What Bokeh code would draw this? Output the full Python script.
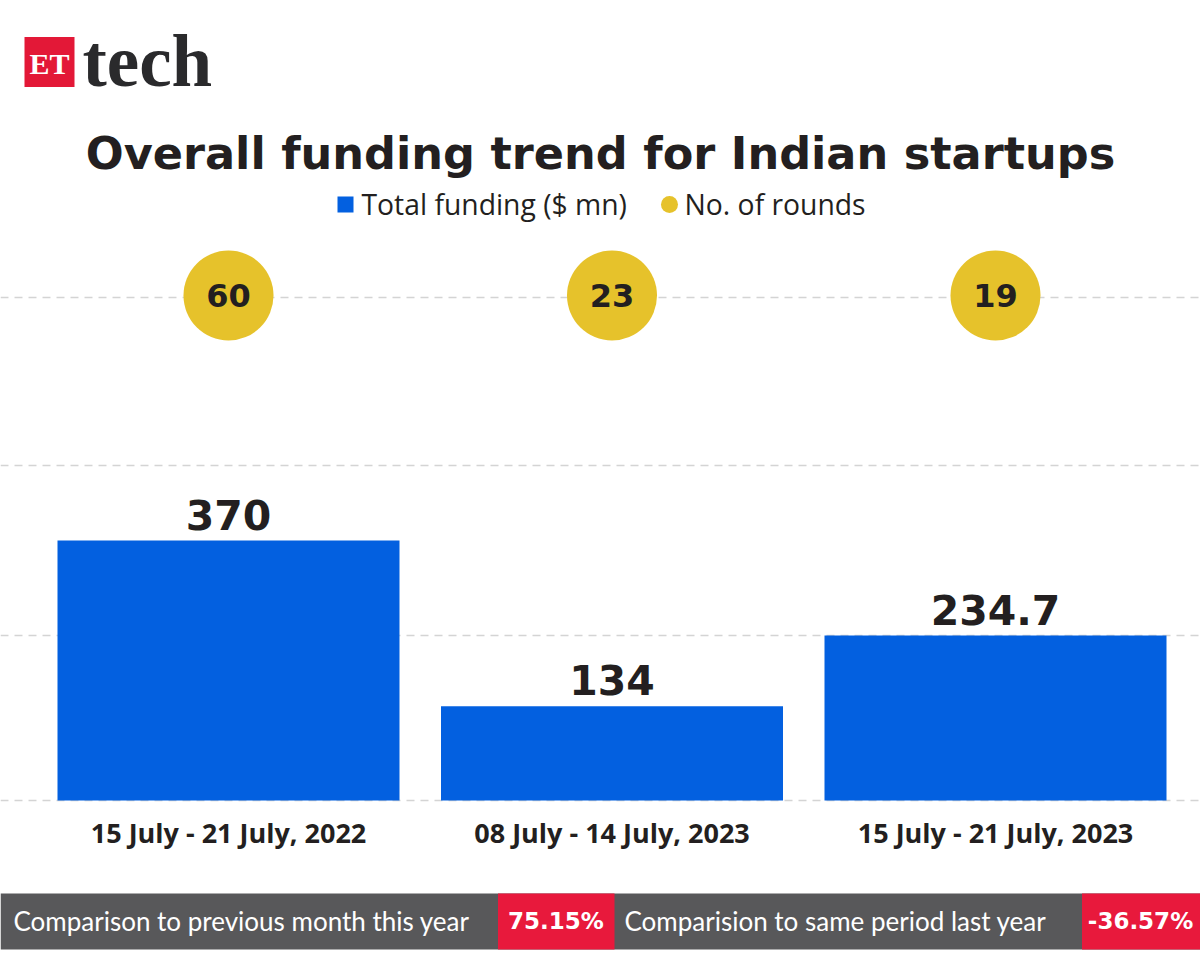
from bokeh.plotting import figure
from bokeh.models import Range1d, Span, ColumnDataSource
from bokeh.core.properties import value
from bokeh.embed import file_html
from bokeh.resources import INLINE

# ---- data ----
periods = ["15 July - 21 July, 2022", "08 July - 14 July, 2023", "15 July - 21 July, 2023"]
funding = [370, 134, 234.7]
funding_labels = ["370", "134", "234.7"]
rounds = [60, 23, 19]
title_text = "Overall funding trend for Indian startups"
legend_labels = ["Total funding ($ mn)", "No. of rounds"]
footer_labels = ["Comparison to previous month this year", "Comparision to same period last year"]
footer_values = ["75.15%", "-36.57%"]

# ---- colours ----
BLUE = "#0360E0"
YELLOW = "#E6C22B"
DARK = "#231F20"
GREY = "#58585A"
RED = "#E8193C"

W, H = 1200, 964
OFF = 0
PX_PER_UNIT = 260 / 370.0   # vertical scale
BASE = 800                  # baseline (page px)
SLOT = 383.5                # category spacing (page px)
C0 = 228                    # first category centre (page px)


def X(px):
    return (px - C0) / SLOT


def Y(py):
    return (BASE - py) / PX_PER_UNIT


p = figure(width=W, height=H, output_backend="svg", toolbar_location=None,
           x_range=Range1d(X(OFF), X(OFF + W)), y_range=Range1d(Y(OFF + H), Y(OFF)),
           min_border=0, outline_line_color=None)
p.xaxis.visible = False
p.yaxis.visible = False
p.grid.visible = False
p.background_fill_color = "white"
p.border_fill_color = "white"

idx = list(range(len(periods)))

# dashed guide lines
for gy in [297, 465, 635, 800]:
    p.add_layout(Span(location=Y(gy), dimension="width", line_color="#d4d4d4",
                      line_width=1.5, line_dash="8 6", level="underlay"))

# ---- logo ----
p.rect(x=[X(49)], y=[Y(61.5)], width=50, height=50, width_units="screen",
       height_units="screen", fill_color="#E31837", line_color=None)
p.text(x=[X(49)], y=[Y(63)], text=["ET"], text_font=value("Liberation Serif"),
       text_font_style="bold", text_font_size="30px", text_color="white",
       text_align="center", text_baseline="middle")
p.text(x=[X(82)], y=[Y(61)], text=["tech"], text_font=value("Liberation Serif"),
       text_font_style="bold", text_font_size="73px", text_color="#2A2A2C",
       text_align="left", text_baseline="middle")

# ---- title ----
p.text(x=[X(600)], y=[Y(153)], text=[title_text], text_font=value("DejaVu Sans"),
       text_font_style="bold", text_font_size="44.6px", text_color=DARK,
       text_align="center", text_baseline="middle")

# ---- legend ----
p.scatter(x=[X(345)], y=[Y(204)], marker="square", size=16, fill_color=BLUE, line_color=None)
p.text(x=[X(361)], y=[Y(203)], text=[legend_labels[0]], text_font=value("Open Sans"),
       text_font_size="28.3px", text_color=DARK, text_align="left", text_baseline="middle")
p.scatter(x=[X(669)], y=[Y(204)], marker="circle", size=17, fill_color=YELLOW, line_color=None)
p.text(x=[X(684)], y=[Y(203)], text=[legend_labels[1]], text_font=value("Open Sans"),
       text_font_size="28.3px", text_color=DARK, text_align="left", text_baseline="middle")

# ---- bars ----
src = ColumnDataSource(dict(x=idx, top=funding, lab=funding_labels, cat=periods,
                            rounds=[str(r) for r in rounds]))
p.vbar(x="x", top="top", bottom=0, width=342 / SLOT, source=src, fill_color=BLUE, line_color=None)
p.text(x="x", y="top", text="lab", source=src, y_offset=-26, text_font=value("DejaVu Sans"),
       text_font_style="bold", text_font_size="41px", text_color=DARK,
       text_align="center", text_baseline="middle")
p.text(x="x", y=0, text="cat", source=src, y_offset=32, text_font=value("Open Sans"),
       text_font_style="bold", text_font_size="27px", text_color=DARK,
       text_align="center", text_baseline="middle")

# ---- rounds circles ----
p.scatter(x="x", y=Y(295), source=src, marker="circle", size=90, fill_color=YELLOW, line_color=None)
p.text(x="x", y=Y(295), text="rounds", source=src, text_font=value("DejaVu Sans"),
       text_font_style="bold", text_font_size="32px", text_color=DARK,
       text_align="center", text_baseline="middle")

# ---- footer ----
p.quad(left=[X(0)], right=[X(1200)], bottom=[Y(949)], top=[Y(893)], fill_color=GREY, line_color=None)
p.quad(left=[X(497.5), X(1081.5)], right=[X(614), X(1200)], bottom=[Y(949)] * 2,
       top=[Y(893)] * 2, fill_color=RED, line_color=None)
p.text(x=[X(13), X(624)], y=[Y(920)] * 2, text=footer_labels, text_font=value("Lato"),
       text_font_size="26px", text_color="white", text_align="left", text_baseline="middle")
p.text(x=[X(555.5), X(1140)], y=[Y(920)] * 2, text=footer_values, text_font=value("DejaVu Sans"),
       text_font_style="bold", text_font_size="23px", text_color="white",
       text_align="center", text_baseline="middle")

open("out.html", "w").write(file_html(p, INLINE))
